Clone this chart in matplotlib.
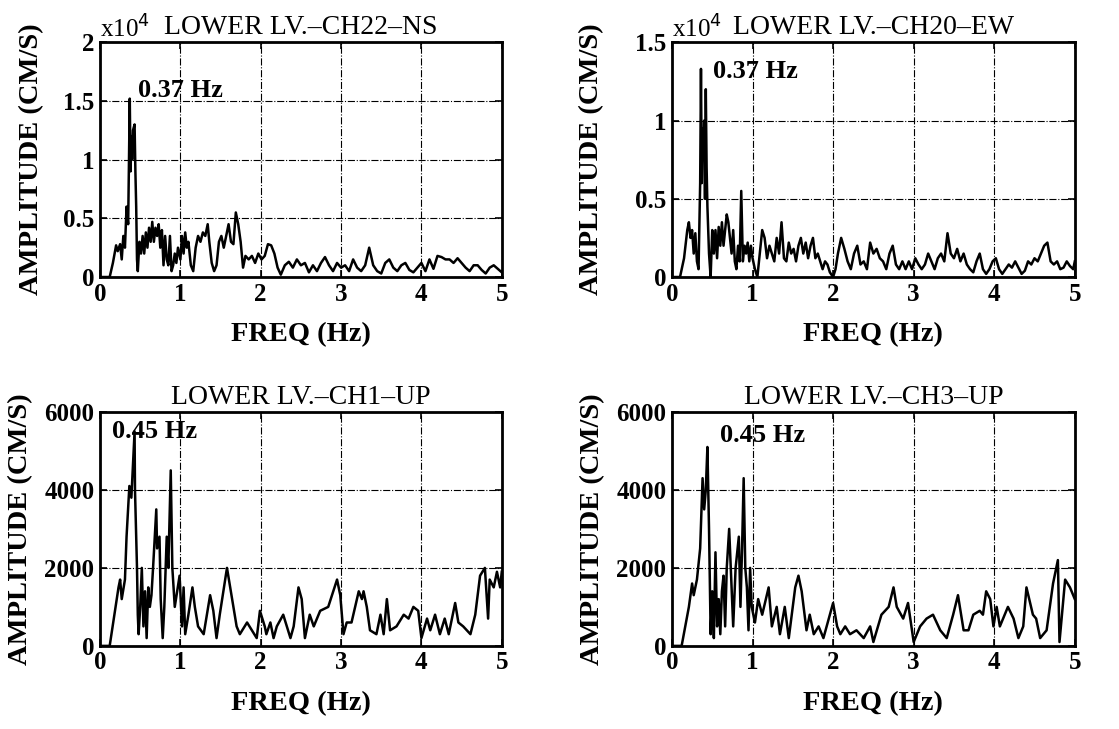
import matplotlib.pyplot as plt
import numpy as np

plt.rcParams['font.family'] = ['Liberation Serif', 'DejaVu Serif']

# ---- CH22-NS (x10^4 cm/s) ----
f1 = [0.00, 0.12, 0.16, 0.20, 0.22, 0.25, 0.27, 0.29, 0.31, 0.33, 0.35, 0.37, 0.38, 0.39, 0.40, 0.41,
      0.43, 0.44, 0.45, 0.46, 0.47, 0.49, 0.51, 0.53, 0.55, 0.57, 0.59, 0.61, 0.63, 0.65, 0.67, 0.69,
      0.71, 0.73, 0.75, 0.77, 0.79, 0.81, 0.83, 0.85, 0.87, 0.89, 0.91, 0.93, 0.95, 0.97, 1.00, 1.02,
      1.04, 1.06, 1.08, 1.10, 1.13, 1.16, 1.19, 1.22, 1.25, 1.28, 1.31, 1.34, 1.36, 1.39, 1.42, 1.45,
      1.48, 1.51, 1.54, 1.57, 1.60, 1.63, 1.66, 1.69, 1.72, 1.75, 1.78, 1.81, 1.85, 1.89, 1.93, 1.97,
      2.01, 2.05, 2.09, 2.13, 2.17, 2.21, 2.25, 2.30, 2.35, 2.40, 2.45, 2.50, 2.55, 2.60, 2.65, 2.70,
      2.75, 2.80, 2.85, 2.90, 2.95, 3.00, 3.05, 3.10, 3.15, 3.20, 3.25, 3.30, 3.35, 3.40, 3.45, 3.50,
      3.55, 3.60, 3.65, 3.70, 3.75, 3.80, 3.85, 3.90, 3.95, 4.00, 4.05, 4.10, 4.15, 4.20, 4.25, 4.30,
      4.35, 4.40, 4.45, 4.50, 4.55, 4.60, 4.65, 4.70, 4.75, 4.80, 4.85, 4.90, 4.95, 5.00]
a1 = [0, 0, 0.12, 0.27, 0.22, 0.28, 0.15, 0.35, 0.25, 0.6, 0.45, 1.52, 0.9, 1.2, 1.0, 1.25,
      1.3, 0.9, 0.6, 0.15, 0.05, 0.3, 0.2, 0.35, 0.2, 0.38, 0.25, 0.42, 0.3, 0.47, 0.3, 0.42,
      0.35, 0.45, 0.25, 0.4, 0.1, 0.35, 0.15, 0.1, 0.35, 0.05, 0.1, 0.2, 0.12, 0.25, 0.15, 0.35,
      0.2, 0.38, 0.25, 0.3, 0.1, 0.05, 0.25, 0.35, 0.3, 0.38, 0.35, 0.45, 0.3, 0.12, 0.05, 0.1,
      0.3, 0.35, 0.25, 0.35, 0.45, 0.3, 0.28, 0.55, 0.45, 0.3, 0.08, 0.18, 0.15, 0.18, 0.12, 0.2,
      0.15, 0.18, 0.28, 0.27, 0.2, 0.08, 0.02, 0.1, 0.13, 0.08, 0.15, 0.1, 0.12, 0.04, 0.1, 0.05,
      0.12, 0.17, 0.1, 0.05, 0.12, 0.08, 0.1, 0.05, 0.15, 0.08, 0.05, 0.1, 0.25, 0.1, 0.05, 0.03,
      0.12, 0.15, 0.08, 0.05, 0.1, 0.12, 0.06, 0.04, 0.08, 0.12, 0.05, 0.15, 0.07, 0.18, 0.17, 0.15,
      0.15, 0.12, 0.16, 0.12, 0.08, 0.05, 0.1, 0.1, 0.06, 0.03, 0.08, 0.1, 0.07, 0.04]

# ---- CH20-EW (x10^4 cm/s) ----
f2 = [0.00, 0.10, 0.15, 0.19, 0.21, 0.23, 0.25, 0.27, 0.29, 0.31, 0.33, 0.35, 0.36, 0.37, 0.38, 0.39,
      0.40, 0.41, 0.42, 0.43, 0.44, 0.45, 0.46, 0.48, 0.50, 0.52, 0.54, 0.56, 0.58, 0.60, 0.62, 0.64,
      0.66, 0.68, 0.70, 0.72, 0.74, 0.76, 0.78, 0.80, 0.82, 0.84, 0.86, 0.88, 0.90, 0.92, 0.94, 0.96,
      0.98, 1.00, 1.03, 1.06, 1.09, 1.12, 1.15, 1.18, 1.21, 1.24, 1.27, 1.30, 1.33, 1.36, 1.39, 1.42,
      1.45, 1.48, 1.51, 1.54, 1.57, 1.60, 1.63, 1.66, 1.69, 1.72, 1.75, 1.78, 1.81, 1.84, 1.87, 1.90,
      1.93, 1.96, 2.00, 2.03, 2.06, 2.10, 2.14, 2.18, 2.22, 2.26, 2.30, 2.34, 2.38, 2.42, 2.46, 2.50,
      2.54, 2.58, 2.62, 2.66, 2.70, 2.74, 2.78, 2.82, 2.86, 2.90, 2.94, 2.98, 3.02, 3.06, 3.10, 3.14,
      3.18, 3.22, 3.26, 3.30, 3.34, 3.38, 3.42, 3.46, 3.50, 3.54, 3.58, 3.62, 3.66, 3.70, 3.74, 3.78,
      3.82, 3.86, 3.90, 3.94, 3.98, 4.02, 4.06, 4.10, 4.14, 4.18, 4.22, 4.26, 4.30, 4.34, 4.38, 4.42,
      4.46, 4.50, 4.54, 4.58, 4.62, 4.66, 4.70, 4.74, 4.78, 4.82, 4.86, 4.90, 4.94, 4.98, 5.00]
a2 = [0, 0, 0.12, 0.3, 0.35, 0.25, 0.3, 0.15, 0.28, 0.1, 0.05, 0.6, 1.33, 0.6, 0.95, 0.8,
      1.0, 0.5, 1.2, 0.7, 0.45, 0.3, 0.15, 0.0, 0.3, 0.15, 0.3, 0.12, 0.32, 0.2, 0.35, 0.2,
      0.3, 0.4, 0.35, 0.25, 0.15, 0.3, 0.1, 0.05, 0.2, 0.1, 0.55, 0.1, 0.2, 0.15, 0.22, 0.1,
      0.2, 0.12, 0.05, 0.0, 0.15, 0.3, 0.25, 0.12, 0.2, 0.15, 0.1, 0.25, 0.15, 0.35, 0.12, 0.1,
      0.22, 0.15, 0.18, 0.1, 0.2, 0.25, 0.15, 0.22, 0.12, 0.2, 0.25, 0.12, 0.15, 0.1, 0.05, 0.1,
      0.08, 0.03, 0.0, 0.05, 0.15, 0.25, 0.18, 0.1, 0.05, 0.15, 0.2, 0.08, 0.1, 0.05, 0.22, 0.15,
      0.18, 0.12, 0.1, 0.05, 0.15, 0.2, 0.08, 0.05, 0.1, 0.05, 0.1, 0.05, 0.12, 0.08, 0.05, 0.08,
      0.15, 0.1, 0.05, 0.12, 0.15, 0.1, 0.28, 0.15, 0.12, 0.18, 0.1, 0.15, 0.08, 0.05, 0.03, 0.1,
      0.15, 0.05, 0.02, 0.05, 0.1, 0.12, 0.05, 0.02, 0.05, 0.08, 0.06, 0.1, 0.06, 0.02, 0.04, 0.1,
      0.08, 0.12, 0.1, 0.15, 0.2, 0.22, 0.1, 0.08, 0.1, 0.05, 0.06, 0.1, 0.07, 0.05, 0.1]

# ---- CH1-UP (cm/s) ----
f3 = [0.00, 0.12, 0.23, 0.25, 0.27, 0.31, 0.33, 0.365, 0.39, 0.43, 0.435, 0.46, 0.47, 0.48, 0.50, 0.52,
      0.54, 0.56, 0.58, 0.60, 0.62, 0.64, 0.66, 0.70, 0.71, 0.74, 0.755, 0.78, 0.80, 0.83, 0.85, 0.88,
      0.90, 0.93, 0.99, 1.02, 1.04, 1.06, 1.10, 1.15, 1.18, 1.22, 1.29, 1.37, 1.41, 1.45, 1.49, 1.58,
      1.62, 1.70, 1.74, 1.83, 1.89, 1.95, 1.99, 2.05, 2.07, 2.12, 2.16, 2.20, 2.28, 2.37, 2.41, 2.47,
      2.51, 2.55, 2.61, 2.66, 2.74, 2.84, 2.95, 2.99, 3.03, 3.07, 3.13, 3.22, 3.26, 3.28, 3.32, 3.36,
      3.44, 3.49, 3.53, 3.57, 3.61, 3.69, 3.78, 3.84, 3.90, 3.96, 4.00, 4.07, 4.11, 4.17, 4.23, 4.29,
      4.34, 4.42, 4.46, 4.52, 4.61, 4.67, 4.73, 4.79, 4.83, 4.85, 4.90, 4.94, 4.98, 5.00]
a3 = [0, 0, 1500, 1700, 1200, 1700, 2800, 4100, 3800, 5500, 4000, 2000, 800, 300, 1000, 2000,
      500, 1400, 200, 1500, 1000, 1300, 2000, 3500, 2500, 2800, 1200, 200, 1000, 2800, 2000, 4500,
      2000, 1000, 1800, 500, 1500, 300, 800, 1500, 1000, 500, 300, 1300, 900, 200, 800, 2000,
      1500, 500, 300, 600, 400, 200, 900, 500, 300, 600, 200, 500, 800, 200, 500, 1500,
      1200, 200, 800, 500, 900, 1000, 1700, 1300, 300, 600, 600, 1400, 1200, 1400, 1000, 400,
      300, 800, 300, 1200, 400, 500, 800, 700, 1000, 900, 200, 700, 400, 800, 300, 700,
      300, 1100, 600, 500, 300, 800, 1800, 2000, 700, 1700, 1500, 1900, 1500, 1900]

# ---- CH3-UP (cm/s) ----
f4 = [0.00, 0.12, 0.21, 0.25, 0.27, 0.31, 0.35, 0.38, 0.40, 0.42, 0.44, 0.46, 0.475, 0.48, 0.50, 0.52,
      0.54, 0.56, 0.58, 0.60, 0.62, 0.64, 0.66, 0.68, 0.71, 0.73, 0.76, 0.79, 0.83, 0.85, 0.87, 0.89,
      0.91, 0.93, 0.95, 0.97, 0.99, 1.03, 1.07, 1.12, 1.20, 1.24, 1.30, 1.34, 1.40, 1.45, 1.53, 1.57,
      1.61, 1.67, 1.71, 1.76, 1.82, 1.88, 2.00, 2.05, 2.09, 2.15, 2.21, 2.29, 2.38, 2.46, 2.50, 2.60,
      2.69, 2.75, 2.79, 2.87, 2.93, 3.00, 3.08, 3.16, 3.24, 3.33, 3.41, 3.49, 3.55, 3.62, 3.68, 3.74,
      3.82, 3.86, 3.90, 3.95, 3.99, 4.03, 4.07, 4.17, 4.24, 4.30, 4.36, 4.40, 4.48, 4.52, 4.57, 4.65,
      4.73, 4.79, 4.81, 4.88, 4.94, 5.00]
a4 = [0, 0, 1000, 1600, 1300, 1700, 2500, 4300, 3500, 4000, 5100, 3000, 1000, 300, 1400, 200,
      2400, 500, 1200, 300, 1400, 1800, 500, 2000, 3000, 2000, 500, 2000, 2800, 1000, 2500, 4300,
      2000, 1500, 400, 2000, 1000, 600, 1200, 800, 1500, 500, 1000, 300, 1000, 200, 1500, 1800,
      1400, 400, 800, 300, 500, 200, 1100, 500, 300, 500, 300, 400, 200, 500, 100, 800,
      1000, 1500, 1000, 700, 1100, 100, 500, 700, 800, 400, 200, 800, 1300, 400, 400, 800,
      900, 800, 1400, 1200, 500, 1000, 500, 1000, 700, 200, 500, 1500, 800, 700, 200, 400,
      1600, 2200, 100, 1700, 1500, 1200]

titles = ["LOWER LV.\u2013CH22\u2013NS", "LOWER LV.\u2013CH20\u2013EW",
          "LOWER LV.\u2013CH1\u2013UP", "LOWER LV.\u2013CH3\u2013UP"]
peak_labels = ["0.37 Hz", "0.37 Hz", "0.45 Hz", "0.45 Hz"]
ylims = [2, 1.5, 6000, 6000]
yticks = [[0, 0.5, 1, 1.5, 2], [0, 0.5, 1, 1.5], [0, 2000, 4000, 6000], [0, 2000, 4000, 6000]]
yticklabels = [["0", "0.5", "1", "1.5", "2"], ["0", "0.5", "1", "1.5"],
               ["0", "2000", "4000", "6000"], ["0", "2000", "4000", "6000"]]
label_pos = [(0.47, 1.53), (0.51, 1.27), (0.15, 5330), (0.60, 5230)]
ylabel_pads = [14, 22, 8, 8]

freqs = [f1, f2, f3, f4]
amps = [a1, a2, a3, a4]

fig = plt.figure(figsize=(11.19, 7.29), dpi=100)
rects = [[0.0894, 0.620, 0.359, 0.322], [0.6005, 0.620, 0.360, 0.322],
         [0.0894, 0.114, 0.359, 0.321], [0.6005, 0.114, 0.360, 0.321]]

for i in range(4):
    ax = fig.add_axes(rects[i])
    ax.plot(freqs[i], amps[i], color='black', lw=1.8)
    ax.set_xlim(0, 5)
    ax.set_ylim(0, ylims[i])
    ax.set_xticks([0, 1, 2, 3, 4, 5])
    ax.set_xticklabels(["0", "1", "2", "3", "4", "5"], fontweight='bold', fontsize=18)
    ax.set_yticks(yticks[i])
    ax.set_yticklabels(yticklabels[i], fontweight='bold', fontsize=18)
    ax.tick_params(direction='in', top=True, right=True, length=5, width=1.2, pad=4)
    ax.grid(True, color='black', linestyle='-.', linewidth=0.8)
    for s in ax.spines.values():
        s.set_linewidth(2)
    ax.set_xlabel("FREQ (Hz)", fontweight='bold', fontsize=20.5, labelpad=12)
    ax.set_ylabel("AMPLITUDE (CM/S)", fontweight='bold', fontsize=20.5,
                  labelpad=ylabel_pads[i])
    ax.set_title(titles[i], fontsize=20, pad=6)
    if i < 2:
        ax.text(0.0, 1.0, "x10$^4$", transform=ax.transAxes, fontsize=18,
                ha='left', va='bottom')
    ax.text(label_pos[i][0], label_pos[i][1], peak_labels[i], fontsize=19,
            fontweight='bold', ha='left', va='baseline')

fig.savefig("out.png", dpi=100)
